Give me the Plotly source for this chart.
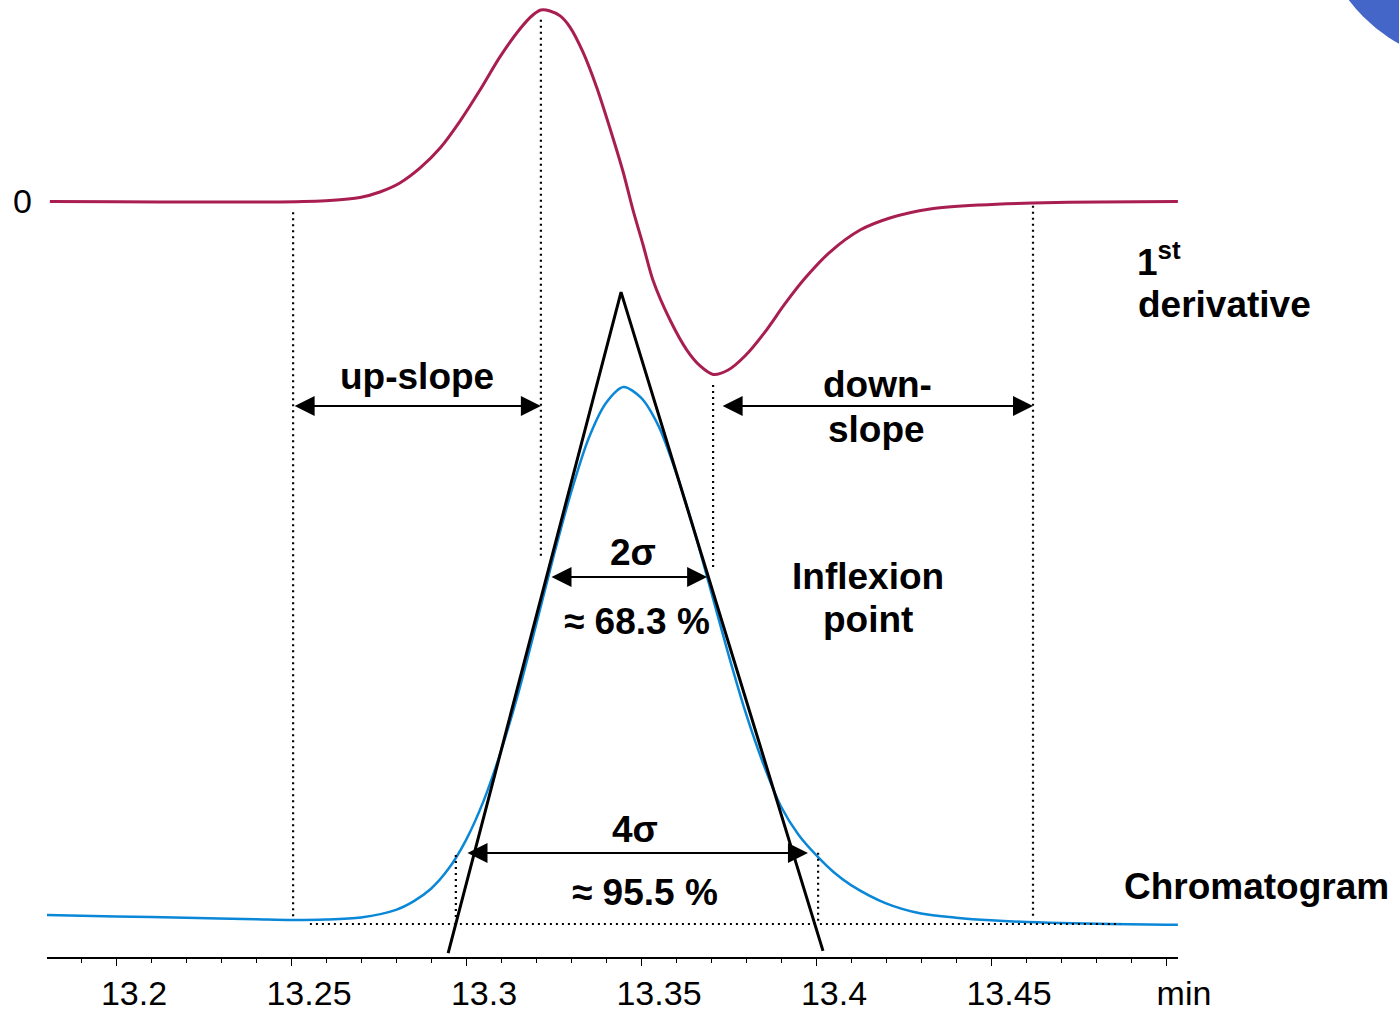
import plotly.graph_objects as go

# ---------------- data ----------------
# Chromatogram (retention time in min, signal normalised to peak = 100)
chrom_time = [13.18, 13.20, 13.22, 13.24, 13.25, 13.26, 13.27, 13.28, 13.285, 13.29, 13.295, 13.30,
              13.305, 13.31, 13.315, 13.32, 13.325, 13.33, 13.335, 13.34, 13.345,
              13.35, 13.355, 13.36, 13.365, 13.37, 13.375, 13.38, 13.385, 13.39,
              13.395, 13.40, 13.405, 13.41, 13.42, 13.43, 13.44, 13.45, 13.47, 13.50, 13.5034]
chrom_signal = [0.94, 0.68, 0.41, 0.13, 0.00, 0.09, 0.49, 1.91, 3.5, 5.87, 9.6, 15.0,
                22.3, 31.7, 42.7, 55.3, 68.2, 80.2, 90.3, 97.0, 100.0,
                98.0, 92.7, 84.0, 73.5, 61.7, 49.8, 38.7, 29.2, 21.3,
                16.0, 12.2, 9.0, 6.55, 3.13, 1.22, 0.43, -0.06, -0.58, -0.88, -0.90]

# First derivative (normalised to maximum = 100)
deriv_time = [13.1811, 13.2000, 13.2240, 13.2469, 13.2611, 13.2697, 13.2754, 13.2811,
              13.2869, 13.2926, 13.2983, 13.3040, 13.3097, 13.3154, 13.3191, 13.3214,
              13.3240, 13.3269, 13.3297, 13.3334, 13.3374, 13.3411, 13.3449, 13.3477,
              13.3506, 13.3534, 13.3583, 13.3631, 13.3669, 13.3706, 13.3749, 13.3797,
              13.3854, 13.3911, 13.3969, 13.4040, 13.4126, 13.4211, 13.4326, 13.4469,
              13.4620, 13.4811, 13.5034]
deriv_value = [0.0, -0.16, -0.26, -0.26, 0.52, 2.09, 4.96, 9.66,
               17.5, 27.9, 42.0, 58.2, 75.5, 90.1, 97.4, 100.0,
               99.5, 96.9, 91.1, 78.1, 59.3, 38.4, 15.4, -4.4,
               -22.7, -41.0, -61.9, -77.6, -85.9, -90.3, -88.0, -80.7,
               -68.2, -53.5, -40.0, -26.4, -14.9, -8.6, -3.9, -1.8,
               -0.78, -0.26, 0.0]

# Tangents through the inflexion points (foot - apex - foot)
tangent_time = [13.2949, 13.3443, 13.4020]
tangent_signal = [-6.2, 117.8, -5.8]

# Characteristic times
upslope_start = 13.2506
deriv_max_time = 13.3214
deriv_min_time = 13.3706
downslope_end = 13.4620
foot_left = 13.2971
foot_right = 13.4006

tick_vals = [13.2, 13.25, 13.3, 13.35, 13.4, 13.45, 13.5]
tick_text = ["13.2", "13.25", "13.3", "13.35", "13.4", "13.45", "min"]

# ---------------- styling ----------------
FONT = "Arial, Liberation Sans, Arimo, sans-serif"
RED = "#A91E50"
BLUE = "#0A87D7"
DOT = "2px,4px"

fig = go.Figure()

fig.add_trace(go.Scatter(x=deriv_time, y=deriv_value, yaxis="y2", mode="lines",
                         line=dict(color=RED, width=3, shape="spline", smoothing=0.8),
                         hoverinfo="skip"))
fig.add_trace(go.Scatter(x=chrom_time, y=chrom_signal, mode="lines",
                         line=dict(color=BLUE, width=2.5, shape="spline", smoothing=0.8),
                         hoverinfo="skip"))
fig.add_trace(go.Scatter(x=tangent_time, y=tangent_signal, mode="lines",
                         line=dict(color="black", width=3), hoverinfo="skip"))

shapes = []
def vdot(x, y0, y1):
    shapes.append(dict(type="line", xref="x", yref="y", x0=x, x1=x, y0=y0, y1=y1,
                       line=dict(color="black", width=2.2, dash=DOT)))

vdot(upslope_start, 132.8, 0.4)
vdot(deriv_max_time, 168.9, 67.9)
vdot(deriv_min_time, 100.4, 66.2)
vdot(downslope_end, 134.0, 0.4)
vdot(foot_left, 12.2, -0.2)
vdot(foot_right, 12.6, -0.2)
shapes.append(dict(type="line", xref="x", yref="y", x0=13.2554, x1=13.4869, y0=-0.75, y1=-0.75,
                   line=dict(color="black", width=2.2, dash=DOT)))
# decorative blue disc in the top-right corner
shapes.append(dict(type="circle", xref="paper", yref="paper", x0=1.1211, x1=1.4129,
                   y0=0.9321, y1=1.2769, fillcolor="#4466C8", line=dict(width=0), layer="above"))

annotations = []
def darrow(x0, x1, y):
    annotations.append(dict(x=x1, y=y, ax=x0, ay=y, xref="x", yref="y", axref="x", ayref="y",
                            text="", showarrow=True, arrowside="end+start",
                            arrowhead=2, startarrowhead=2, arrowsize=2, startarrowsize=2,
                            arrowwidth=2, arrowcolor="black", standoff=0, startstandoff=0))

darrow(upslope_start, deriv_max_time, 96.44)
darrow(13.3729, downslope_end, 96.44)
darrow(13.3240, 13.3689, 64.35)
darrow(13.3000, 13.3977, 12.57)

def label(x, y, text, xanchor="center", size=37):
    annotations.append(dict(x=x, y=y, xref="x", yref="y", text="<b>" + text + "</b>",
                            showarrow=False, xanchor=xanchor, yanchor="middle",
                            font=dict(family=FONT, size=size, color="black")))

label(13.2860, 102.06, "up-slope")
label(13.4177, 100.38, "down-")
label(13.4174, 92.12, "slope")
label(13.3477, 68.86, "2σ")
label(13.3489, 56.10, "≈ 68.3 %")
label(13.4149, 64.54, "Inflexion")
label(13.4149, 56.29, "point")
label(13.3483, 17.07, "4σ")
label(13.3511, 5.25, "≈ 95.5 %")
label(13.4912, 124.0, "1<sup>st</sup>", xanchor="left")
label(13.4914, 115.57, "derivative", xanchor="left")
label(13.4875, 6.38, "Chromatogram", xanchor="left")

fig.update_layout(
    width=1399, height=1012,
    margin=dict(l=47, r=221, t=0, b=55, pad=0),
    paper_bgcolor="white", plot_bgcolor="white",
    showlegend=False,
    font=dict(family=FONT, color="black"),
    shapes=shapes, annotations=annotations,
    xaxis=dict(range=[13.180286, 13.503429], showgrid=False, zeroline=False,
               showline=True, linecolor="black", linewidth=1.5,
               tickmode="array", tickvals=tick_vals, ticktext=tick_text,
               ticks="outside", ticklen=7, tickwidth=1.2, tickcolor="black",
               minor=dict(ticks="outside", ticklen=4, tickwidth=1, tickcolor="black",
                          tick0=13.2, dtick=0.01, showgrid=False),
               tickfont=dict(family=FONT, size=34, color="black"),
               ticklabelshift=18, ticklabelstandoff=-2, automargin=False),
    yaxis=dict(range=[-6.94, 172.61], visible=False, automargin=False),
    yaxis2=dict(range=[-394.52, 105.22], overlaying="y", side="left",
                showgrid=False, zeroline=False, showline=False,
                tickmode="array", tickvals=[0], ticktext=["0"], ticks="",
                tickfont=dict(family=FONT, size=34, color="black"),
                ticklabelstandoff=14, automargin=False),
)

fig.write_html("out.html", config={"displayModeBar": False},
               post_script="document.body.style.margin='0';document.body.style.overflow='hidden';")
